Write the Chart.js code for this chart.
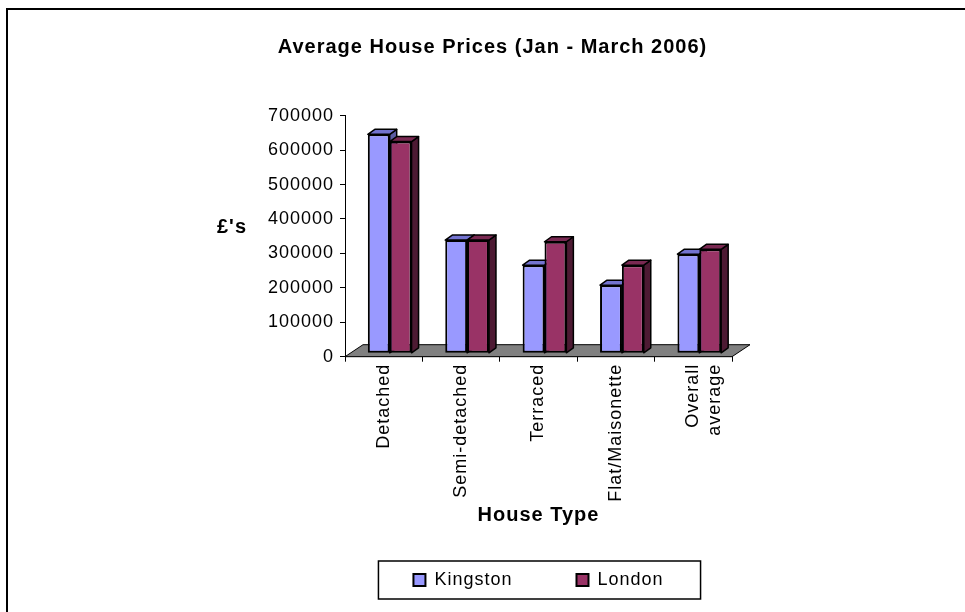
<!DOCTYPE html>
<html>
<head>
<meta charset="utf-8">
<title>Average House Prices (Jan - March 2006)</title>
<script src="https://cdn.jsdelivr.net/npm/chart.js@4.4.1/dist/chart.umd.min.js"></script>
<style>
  html, body { margin: 0; padding: 0; background: #fff; overflow: hidden; }
  #wrap { position: relative; width: 965px; height: 612px; }
  #frame { position: absolute; left: 6px; top: 8px; width: 1000px; height: 700px;
           border-left: 2px solid #000; border-top: 2px solid #000; pointer-events: none; }
</style>
</head>
<body>
<div id="wrap">
  <canvas id="houseChart" width="965" height="612"></canvas>
  <div id="frame"></div>
</div>
<script>
// data
const categories = ['Detached', 'Semi-detached', 'Terraced', 'Flat/Maisonette', ['Overall', 'average']];
const kingston = [636000, 329000, 256000, 198000, 288000];
const london = [615000, 329000, 324000, 256000, 302000];
const yTickLabels = ['0', '100000', '200000', '300000', '400000', '500000', '600000', '700000'];

const FONT = '"Liberation Sans", Arial, sans-serif';

// front / top / side colours for the fake 3d columns
const faceColors = [
    { front: '#9999ff', top: '#7373d0', side: '#5c5ca3' },
    { front: '#993366', top: '#7a2952', side: '#4d1a33' }
];

// excel text looks a bit stretched, so space letters out a little
const spacing = {
    id: 'spacing',
    beforeUpdate(chart) { chart.ctx.letterSpacing = '1px'; },
    beforeDraw(chart) { chart.ctx.letterSpacing = '1px'; }
};

// grey floor + top/side faces, then bars get drawn shifted into the floor
const bars3d = {
    id: 'bars3d',
    beforeDatasetsDraw(chart) {
        const { ctx, chartArea: a } = chart;
        ctx.save();
        ctx.beginPath();
        ctx.moveTo(a.left, a.bottom);
        ctx.lineTo(a.right, a.bottom);
        ctx.lineTo(a.right + 18, a.bottom - 12);
        ctx.lineTo(a.left + 18, a.bottom - 12);
        ctx.closePath();
        ctx.fillStyle = '#808080';
        ctx.fill();
        ctx.strokeStyle = '#000';
        ctx.lineWidth = 1;
        ctx.stroke();
        ctx.restore();

        ctx.save();
        ctx.translate(6, -3.4);
        const dx = 7, dy = -5;
        const n = categories.length;
        for (let j = 0; j < n; j++) {
            chart.data.datasets.forEach((ds, i) => {
                const bar = chart.getDatasetMeta(i).data[j];
                const { x, y, base, width } = bar.getProps(['x', 'y', 'base', 'width'], true);
                const l = x - width / 2, r = x + width / 2;
                ctx.strokeStyle = '#000';
                ctx.lineWidth = 1.5;
                ctx.lineJoin = 'round';
                // side
                ctx.beginPath();
                ctx.moveTo(r, y);
                ctx.lineTo(r + dx, y + dy);
                ctx.lineTo(r + dx, base + dy);
                ctx.lineTo(r, base);
                ctx.closePath();
                ctx.fillStyle = faceColors[i].side;
                ctx.fill();
                ctx.stroke();
                // top
                ctx.beginPath();
                ctx.moveTo(l, y);
                ctx.lineTo(r, y);
                ctx.lineTo(r + dx, y + dy);
                ctx.lineTo(l + dx, y + dy);
                ctx.closePath();
                ctx.fillStyle = faceColors[i].top;
                ctx.fill();
                ctx.stroke();
            });
        }
    },
    afterDatasetsDraw(chart) {
        chart.ctx.restore();
    }
};

// horizontal y title and the box round the legend
const extras = {
    id: 'extras',
    afterLayout(chart) {
        // title is centred on the whole frame, not on the plot
        chart.titleBlock.left = 20;
        chart.titleBlock.right = 965;
    },
    afterDraw(chart) {
        const { ctx, chartArea: a } = chart;
        ctx.save();
        ctx.fillStyle = '#000';
        ctx.font = 'bold 20px ' + FONT;
        ctx.textAlign = 'center';
        ctx.textBaseline = 'middle';
        ctx.fillText("£'s", a.left - 113, (a.top + a.bottom) / 2 - 9);

        const hb = chart.legend.legendHitBoxes;
        if (hb && hb.length) {
            const first = hb[0], last = hb[hb.length - 1];
            const x0 = first.left - 35;
            const x1 = last.left + last.width + 37;
            const y0 = first.top - 10;
            const y1 = first.top + first.height + 10;
            ctx.strokeStyle = '#000';
            ctx.lineWidth = 1.5;
            ctx.strokeRect(x0, y0, x1 - x0, y1 - y0);
        }
        ctx.restore();
    }
};

new Chart(document.getElementById('houseChart'), {
    type: 'bar',
    data: {
        labels: categories,
        datasets: [
            {
                label: 'Kingston',
                data: kingston,
                backgroundColor: faceColors[0].front,
                borderColor: '#000',
                borderWidth: 2,
                borderSkipped: false,
                categoryPercentage: 0.565,
                barPercentage: 1.0
            },
            {
                label: 'London',
                data: london,
                backgroundColor: faceColors[1].front,
                borderColor: '#000',
                borderWidth: 2,
                borderSkipped: false,
                categoryPercentage: 0.565,
                barPercentage: 1.0
            }
        ]
    },
    options: {
        responsive: false,
        animation: false,
        layout: { padding: { left: 0, right: 233, top: 0, bottom: 13 } },
        scales: {
            x: {
                grid: { display: true, drawOnChartArea: false, drawTicks: true, tickLength: 5, color: '#000' },
                border: { display: true, color: '#000', width: 1 },
                ticks: {
                    color: '#000',
                    font: { family: FONT, size: 18 },
                    minRotation: 90,
                    maxRotation: 90,
                    autoSkip: false,
                    padding: 2
                },
                title: {
                    display: true,
                    text: 'House Type',
                    color: '#000',
                    font: { family: FONT, size: 20, weight: 'bold' },
                    padding: { top: 0, bottom: -20.7 }
                },
                afterFit(scale) { scale.height = 150.3; }
            },
            y: {
                min: 0,
                max: 700000,
                ticks: {
                    stepSize: 100000,
                    autoSkip: false,
                    color: '#000',
                    font: { family: FONT, size: 18 },
                    padding: 6,
                    callback: (v, i) => yTickLabels[i]
                },
                grid: { display: true, drawOnChartArea: false, drawTicks: true, tickLength: 5, color: '#000' },
                border: { display: true, color: '#000', width: 1 },
                afterFit(scale) { scale.width = 345; }
            }
        },
        plugins: {
            title: {
                display: true,
                text: 'Average House Prices (Jan - March 2006)',
                color: '#000',
                font: { family: FONT, size: 20, weight: 'bold' },
                padding: { top: 35, bottom: 56.7 }
            },
            legend: {
                position: 'bottom',
                fullSize: false,
                labels: {
                    color: '#000',
                    font: { family: FONT, size: 18 },
                    boxWidth: 12,
                    boxHeight: 12,
                    padding: 64
                }
            },
            tooltip: { enabled: false }
        }
    },
    plugins: [spacing, bars3d, extras]
});
</script>
</body>
</html>
